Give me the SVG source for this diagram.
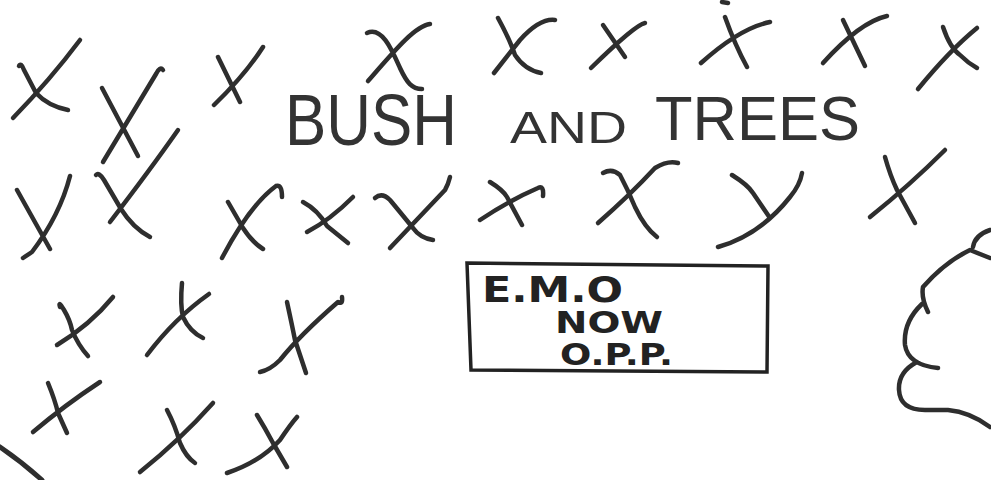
<svg xmlns="http://www.w3.org/2000/svg" width="991" height="480" viewBox="0 0 991 480">
<style>
.s{fill:none;stroke:#2e2e2e;stroke-width:4.5;stroke-linecap:round;stroke-linejoin:round}
.t{font-family:"Liberation Sans","DejaVu Sans",sans-serif;fill:#333}
.b{font-family:"DejaVu Sans","Liberation Sans",sans-serif;font-weight:bold;fill:#222}
</style>
<rect width="991" height="480" fill="#fff"/>
<g id="trees" class="s">
<path d="M19,66 Q21,62 24,70 L36,93 Q48,106 68,110 M80,40 Q50,80 13,118"/>
<path d="M102,88 L138,156 M163,70 Q160,66 156,74 L103,162"/>
<path d="M218,57 L240,102 M263,47 Q245,75 214,105"/>
<path d="M367,33 C382,26 392,50 400,68 C407,83 412,89 422,89 M430,24 C415,26 395,50 368,81"/>
<path d="M498,18 Q510,40 515,55 Q525,70 541,73 M555,20 Q540,18 520,40 L494,73"/>
<path d="M603,25 L625,57 M645,23 Q635,25 591,68"/>
<path d="M725,17 Q735,45 747,67 M770,22 Q740,28 701,63 M722,2 L728,3"/>
<path d="M843,20 Q855,45 865,66 M887,16 Q860,22 823,63"/>
<path d="M943,27 Q950,48 960,55 Q968,63 977,68 M977,28 Q950,50 918,89"/>
<path d="M17,190 L50,249 M70,176 Q60,215 32,252 L23,258"/>
<path d="M96,175 Q99,172 104,180 L121,209 Q133,228 150,237 M178,130 Q150,170 110,222"/>
<path d="M228,202 L243,228 Q252,242 263,249 M282,197 Q282,184 276,186 Q250,205 222,258"/>
<path d="M303,202 Q318,210 327,226 L348,243 M353,197 Q330,220 307,232"/>
<path d="M375,198 Q382,192 390,200 Q400,212 413,228 Q420,238 433,240 M450,177 Q448,185 445,190 L390,248"/>
<path d="M490,182 Q503,190 507,197 L522,225 M543,196 Q544,185 538,188 Q510,200 480,220"/>
<path d="M603,173 Q612,168 620,175 Q628,190 635,207 Q645,228 657,237 M678,163 Q668,160 655,168 Q630,195 598,223"/>
<path d="M732,175 Q748,185 753,193 L770,218 M802,173 Q800,185 790,197 Q760,235 718,247"/>
<path d="M885,157 Q890,175 897,190 L915,223 M945,150 Q910,185 870,217"/>
<path d="M60,307 Q58,300 64,310 Q70,320 72,330 Q78,345 88,356 M113,297 Q90,325 57,345"/>
<path d="M182,283 Q180,305 183,317 Q190,332 203,338 M209,294 Q175,318 147,355"/>
<path d="M287,302 Q292,325 295,340 L306,373 M342,297 Q343,305 338,302 Q300,335 280,360 Q270,370 260,372"/>
<path d="M48,383 Q55,400 58,413 L67,433 M100,382 Q65,405 33,432"/>
<path d="M167,410 Q175,425 180,443 Q186,457 195,463 M213,403 Q180,440 140,472"/>
<path d="M257,415 Q265,428 273,443 L287,467 M297,417 Q290,425 280,440 Q260,462 227,473"/>
</g>
<g id="edge" class="s">
<path d="M0,447 Q22,462 42,480" stroke-width="5"/>
<path d="M990,230 Q975,235 973,247 M990,258 L970,250 Q945,262 923,287 Q921,298 928,312 M922,304 Q903,322 905,345 Q908,365 938,368 M917,362 Q898,372 899,390 Q900,410 925,410 L948,410 Q970,412 990,427"/>
</g>
<g id="title">
<text class="t" x="285" y="145" font-size="72" textLength="172" lengthAdjust="spacingAndGlyphs">BUSH</text>
<text class="t" x="510" y="143" font-size="44" textLength="117" lengthAdjust="spacingAndGlyphs">AND</text>
<text class="t" x="655" y="140" font-size="63" textLength="205" lengthAdjust="spacingAndGlyphs">TREES</text>
</g>
<g id="sign">
<polygon points="467,263 768,266 767,372 471,370" fill="none" stroke="#222" stroke-width="3.5"/>
<text class="b" x="482" y="302" font-size="36" textLength="141" lengthAdjust="spacingAndGlyphs">E.M.O</text>
<text class="b" x="555" y="333" font-size="31" textLength="108" lengthAdjust="spacingAndGlyphs">NOW</text>
<text class="b" x="560" y="365" font-size="30" textLength="113" lengthAdjust="spacingAndGlyphs">O.P.P.</text>
</g>
</svg>
